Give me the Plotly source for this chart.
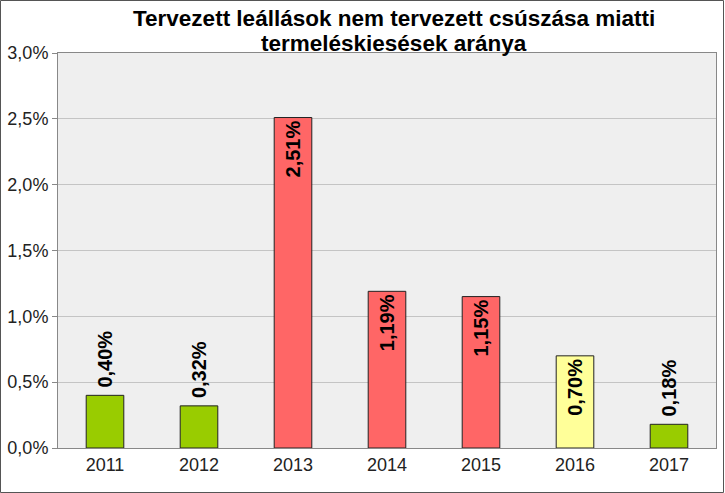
import plotly.graph_objects as go

years = ["2011", "2012", "2013", "2014", "2015", "2016", "2017"]
values = [0.0040, 0.0032, 0.0251, 0.0119, 0.0115, 0.0070, 0.0018]
colors = ["#99cc00", "#99cc00", "#ff6666", "#ff6666", "#ff6666", "#ffff99", "#99cc00"]
positions = ["outside", "outside", "inside", "inside", "inside", "inside", "outside"]
y_ticks = [0, 0.005, 0.01, 0.015, 0.02, 0.025, 0.03]
title_lines = ["Tervezett leállások nem tervezett csúszása miatti", "termeléskiesések aránya"]

W, H = 725, 493
ml, mr, mt, mb = 58, 9, 53, 45
pw, ph = W - ml - mr, H - mt - mb

pad = "<span style='color:rgba(0,0,0,0)'>'</span>"
templates = [pad + "%{y:.2%}" if p == "outside" else "%{y:.2%}" for p in positions]

fig = go.Figure(go.Bar(
    x=years, y=values,
    marker=dict(color=colors, line=dict(color="#222222", width=1)),
    texttemplate=templates,
    textposition=positions,
    insidetextanchor="end",
    textangle=-90,
    constraintext="none",
    textfont=dict(family="Liberation Sans", size=20, color="#000000", weight="bold"),
    cliponaxis=False,
    width=0.4,
))

fig.update_layout(
    width=W, height=H,
    margin=dict(l=ml, r=mr, t=mt, b=mb, autoexpand=False),
    separators=",.",
    paper_bgcolor="white",
    plot_bgcolor="#efefef",
    font=dict(family="Liberation Sans", size=18, color="#222222"),
    showlegend=False,
    xaxis=dict(
        showline=True, linecolor="#888888", mirror=True, automargin=False,
        ticks="", tickfont=dict(size=18),
    ),
    yaxis=dict(
        range=[0, 0.03], tickvals=y_ticks, tickformat=".1%", automargin=False,
        showgrid=True, gridcolor="#c4c4c4", gridwidth=1,
        showline=True, linecolor="#888888", mirror=True,
        ticks="outside", ticklen=5, tickcolor="#888888",
        tickfont=dict(size=18), zeroline=False,
    ),
)

for i, line in enumerate(title_lines):
    fig.add_annotation(
        text="<b>" + line + "</b>", xref="paper", yref="paper",
        x=(394 - ml) / pw, y=1 + (mt - 19 - 24 * i) / ph,
        xanchor="center", yanchor="middle", showarrow=False,
        font=dict(family="Liberation Sans", size=22.5, color="#000000"),
    )

fig.add_shape(
    type="rect", xref="paper", yref="paper",
    x0=-ml / pw + 0.5 / pw, x1=1 + (mr - 1.5) / pw,
    y0=-mb / ph + 0.5 / ph, y1=1 + (mt - 0.5) / ph,
    line=dict(color="#555555", width=1), fillcolor="rgba(0,0,0,0)",
)

fig.write_html("out.html", config={"displayModeBar": False},
               post_script="document.body.style.margin='0';")
